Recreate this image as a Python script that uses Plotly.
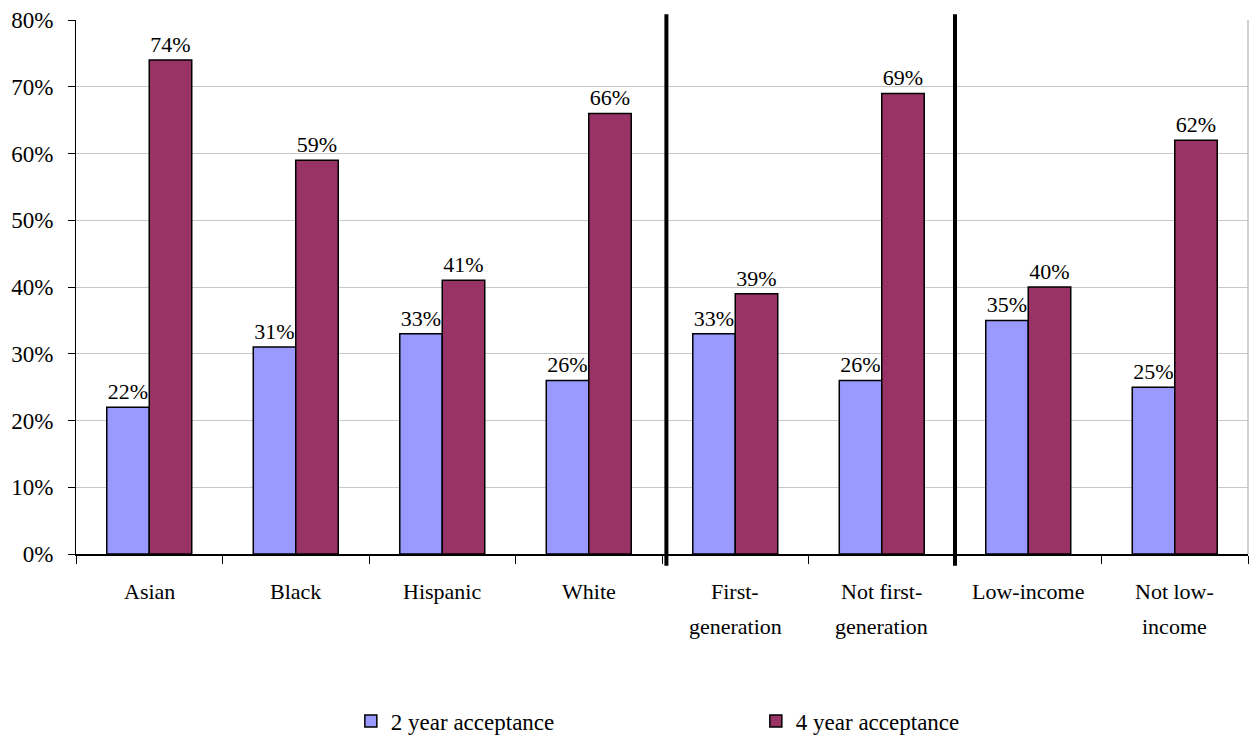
import plotly.graph_objects as go

categories = ["Asian", "Black", "Hispanic", "White",
              "First-\ngeneration", "Not first-\ngeneration",
              "Low-income", "Not low-\nincome"]
two_year = [0.22, 0.31, 0.33, 0.26, 0.33, 0.26, 0.35, 0.25]
four_year = [0.74, 0.59, 0.41, 0.66, 0.39, 0.69, 0.40, 0.62]

FONT = "Liberation Serif"

fig = go.Figure()
fig.add_trace(go.Bar(
    x=categories, y=two_year, name="2 year acceptance",
    marker=dict(color="#9999FF", line=dict(color="black", width=1.5)),
    text=[f"{v:.0%}" for v in two_year], textposition="outside",
    textfont=dict(family=FONT, size=22, color="black"), cliponaxis=False,
))
fig.add_trace(go.Bar(
    x=categories, y=four_year, name="4 year acceptance",
    marker=dict(color="#993366", line=dict(color="black", width=1.5)),
    text=[f"{v:.0%}" for v in four_year], textposition="outside",
    textfont=dict(family=FONT, size=22, color="black"), cliponaxis=False,
))

# category labels, one annotation per text line for wider line spacing
for cat in categories:
    for i, line in enumerate(cat.split("\n")):
        fig.add_annotation(x=cat, y=-0.0693 - i * 0.0674, xref="x", yref="paper",
                           text=line, showarrow=False, yanchor="middle",
                           font=dict(family=FONT, size=22, color="black"))

# group separators between race, generation and income groups
for xpos in (3.53, 5.5):
    fig.add_shape(type="line", xref="x", yref="paper", x0=xpos, x1=xpos,
                  y0=-0.022, y1=1.011, line=dict(color="black", width=4))
# right border of plot area
fig.add_shape(type="line", xref="paper", yref="paper", x0=1, x1=1, y0=0, y1=1,
              line=dict(color="#c0c0c0", width=1.5))

fig.update_layout(
    width=1253, height=736,
    margin=dict(l=76, r=5, t=20, b=182, autoexpand=False),
    plot_bgcolor="white", paper_bgcolor="white",
    font=dict(family=FONT, size=22, color="black"),
    barmode="group", bargap=0.42, bargroupgap=0,
    showlegend=True,
    legend=dict(orientation="h", xref="container", yref="container",
                x=0.28, xanchor="left", y=0.0204, yanchor="middle",
                entrywidth=360, font=dict(family=FONT, size=23), traceorder="normal"),
    xaxis=dict(type="category", tickson="boundaries", ticks="outside", ticklen=8,
               tickcolor="black", showline=True, linecolor="black", linewidth=1.5,
               showgrid=False, showticklabels=False),
    yaxis=dict(range=[0, 0.8], dtick=0.1, tickformat=".0%", ticks="outside", ticklen=7,
               tickcolor="black", showline=True, linecolor="black", linewidth=1.2,
               showgrid=True, gridcolor="#c8c8c8", gridwidth=1, zeroline=False,
               ticklabelstandoff=10, tickfont=dict(family=FONT, size=23)),
)

fig.write_html("out.html")
